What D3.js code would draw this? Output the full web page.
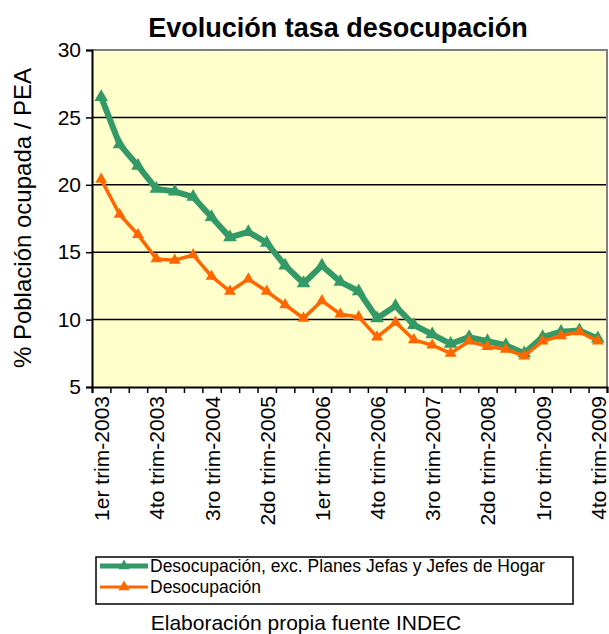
<!DOCTYPE html>
<html>
<head>
<meta charset="utf-8">
<script src="https://cdn.jsdelivr.net/npm/d3@7"></script>
<style>
  body { margin: 0; background: #fff; }
  svg text { font-family: "Liberation Sans", Arial, sans-serif; fill: #000; }
</style>
</head>
<body>
<script>
// trimestres 2003-2009
var trimestres = [
  "1er trim-2003","2do trim-2003","3ro trim-2003","4to trim-2003",
  "1er trim-2004","2do trim-2004","3ro trim-2004","4to trim-2004",
  "1er trim-2005","2do trim-2005","3ro trim-2005","4to trim-2005",
  "1er trim-2006","2do trim-2006","3ro trim-2006","4to trim-2006",
  "1er trim-2007","2do trim-2007","3ro trim-2007","4to trim-2007",
  "1er trim-2008","2do trim-2008","3ro trim-2008","4to trim-2008",
  "1ro trim-2009","2do trim-2009","3ro trim-2009","4to trim-2009"
];
// desocupación sin planes Jefas y Jefes de Hogar
var desocExcPlanes = [26.5, 23.0, 21.4, 19.7, 19.5, 19.1, 17.6, 16.1,
                      16.5, 15.7, 14.0, 12.7, 14.0, 12.8, 12.1, 10.1,
                      11.0, 9.6, 8.9, 8.2, 8.7, 8.4, 8.1, 7.5,
                      8.7, 9.1, 9.2, 8.6];
// desocupación
var desoc = [20.4, 17.8, 16.3, 14.5, 14.4, 14.8, 13.2, 12.1,
             13.0, 12.1, 11.1, 10.1, 11.4, 10.4, 10.2, 8.7,
             9.8, 8.5, 8.1, 7.5, 8.4, 8.0, 7.8, 7.3,
             8.4, 8.8, 9.1, 8.4];
var yTicks = [5, 10, 15, 20, 25, 30];
var series = [
  { name: "Desocupación, exc. Planes Jefas y Jefes de Hogar", values: desocExcPlanes, color: "#339966", width: 6, marker: 80 },
  { name: "Desocupación", values: desoc, color: "#ff6600", width: 3.5, marker: 60 }
];

var width = 609, height = 634;
var plot = { left: 92, right: 607, top: 50, bottom: 387 };

var svg = d3.select("body").append("svg")
  .attr("width", width)
  .attr("height", height);

var x = d3.scaleBand()
  .domain(trimestres)
  .range([plot.left, plot.right])
  .padding(0);
var cx = function(i){ return x(trimestres[i]) + x.bandwidth() / 2; };

var y = d3.scaleLinear()
  .domain([5, 30])
  .range([plot.bottom, plot.top]);

// fondo del área
svg.append("rect")
  .attr("x", plot.left).attr("y", plot.top)
  .attr("width", plot.right - plot.left)
  .attr("height", plot.bottom - plot.top)
  .attr("fill", "#ffffcc");

// grilla
svg.append("g").selectAll("line")
  .data(yTicks.filter(function(t){ return t > 5 && t < 30; }))
  .enter().append("line")
  .attr("x1", plot.left).attr("x2", plot.right)
  .attr("y1", function(d){ return y(d); })
  .attr("y2", function(d){ return y(d); })
  .attr("stroke", "#000")
  .attr("stroke-width", 1.5);

// borde gris arriba y a la derecha
svg.append("path")
  .attr("d", "M" + plot.left + "," + plot.top + "H" + plot.right + "V" + plot.bottom)
  .attr("fill", "none")
  .attr("stroke", "#808080")
  .attr("stroke-width", 2);

// eje Y
var yAxis = svg.append("g")
  .attr("transform", "translate(" + plot.left + ",0)")
  .call(d3.axisLeft(y).tickValues(yTicks).tickSize(6).tickPadding(5));
yAxis.select(".domain").attr("stroke", "#000").attr("stroke-width", 2);
yAxis.selectAll(".tick line").attr("stroke", "#000").attr("stroke-width", 1.5);
yAxis.selectAll(".tick text")
  .style("font-family", "Liberation Sans, Arial, sans-serif")
  .style("font-size", "21px");

// eje X: marcas entre categorías
var xEdges = d3.scaleLinear().domain([0, trimestres.length]).range([plot.left, plot.right]);
var xAxis = svg.append("g")
  .attr("transform", "translate(0," + plot.bottom + ")")
  .call(d3.axisBottom(xEdges).tickValues(d3.range(trimestres.length + 1)).tickSize(6).tickFormat(""));
xAxis.select(".domain").attr("stroke", "#000").attr("stroke-width", 2);
xAxis.selectAll(".tick line").attr("stroke", "#000").attr("stroke-width", 1.5);

// etiquetas cada 3 trimestres
svg.append("g").selectAll("text")
  .data(trimestres.filter(function(d, i){ return i % 3 === 0; }))
  .enter().append("text")
  .attr("transform", function(d){
    return "translate(" + (x(d) + x.bandwidth() / 2 + 8) + "," + (plot.bottom + 9) + ") rotate(-90)";
  })
  .attr("text-anchor", "end")
  .style("font-size", "21px")
  .text(function(d){ return d; });

// series
var line = d3.line()
  .x(function(d, i){ return cx(i); })
  .y(function(d){ return y(d); });

series.forEach(function(s){
  var g = svg.append("g");
  g.append("path")
    .attr("d", line(s.values))
    .attr("fill", "none")
    .attr("stroke", s.color)
    .attr("stroke-width", s.width)
    .attr("stroke-linejoin", "round");
  g.selectAll("path.m")
    .data(s.values)
    .enter().append("path")
    .attr("class", "m")
    .attr("transform", function(d, i){ return "translate(" + cx(i) + "," + y(d) + ")"; })
    .attr("d", d3.symbol(d3.symbolTriangle, s.marker))
    .attr("fill", s.color);
});

// título
svg.append("text")
  .attr("x", 338).attr("y", 37)
  .attr("text-anchor", "middle")
  .style("font-size", "27px")
  .style("font-weight", "bold")
  .text("Evolución tasa desocupación");

// título eje Y
svg.append("text")
  .attr("transform", "translate(31,218) rotate(-90)")
  .attr("text-anchor", "middle")
  .style("font-size", "24px")
  .text("% Población ocupada / PEA");

// leyenda
var legend = svg.append("g");
legend.append("rect")
  .attr("x", 96).attr("y", 557)
  .attr("width", 477).attr("height", 47)
  .attr("fill", "#fff")
  .attr("stroke", "#000")
  .attr("stroke-width", 1.5);
series.forEach(function(s, i){
  var ly = 566 + i * 21;
  legend.append("line")
    .attr("x1", 100).attr("x2", 148)
    .attr("y1", ly).attr("y2", ly)
    .attr("stroke", s.color)
    .attr("stroke-width", i === 0 ? 5 : 3);
  legend.append("path")
    .attr("transform", "translate(124," + ly + ")")
    .attr("d", d3.symbol(d3.symbolTriangle, 55))
    .attr("fill", s.color);
  legend.append("text")
    .attr("x", 150).attr("y", ly + 6)
    .style("font-size", "17.5px")
    .text(s.name);
});

// fuente
svg.append("text")
  .attr("x", 306).attr("y", 630)
  .attr("text-anchor", "middle")
  .style("font-size", "21px")
  .text("Elaboración propia fuente INDEC");
</script>
</body>
</html>
